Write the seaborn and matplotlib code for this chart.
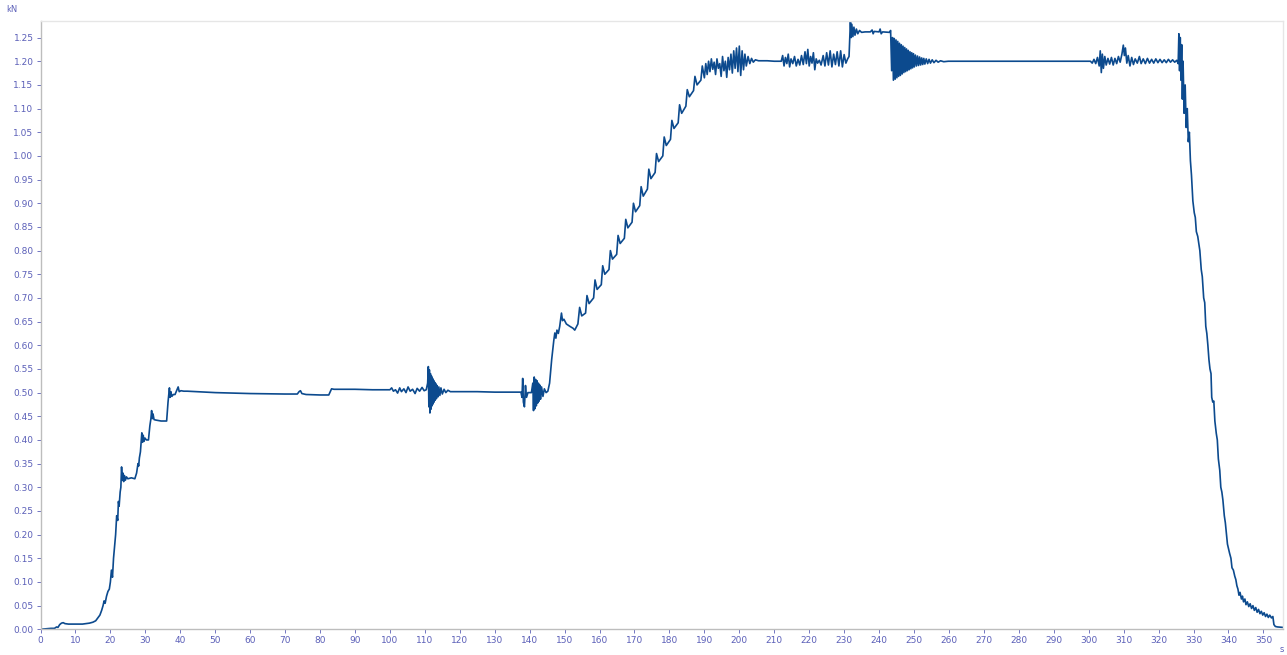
import numpy as np
import pandas as pd
import matplotlib
matplotlib.use("Agg")
import matplotlib.pyplot as plt
import seaborn as sns

# Load record (time in s, force in kN), split by test phase
initial_ramp = [
    (0.0, 0.000), (1.5, 0.001), (3.0, 0.002), (4.0, 0.002), (4.6, 0.005), (5.0, 0.004),
    (5.5, 0.010), (6.0, 0.013), (6.5, 0.014), (7.0, 0.012), (8.0, 0.011), (10.0, 0.011),
    (12.0, 0.011), (13.0, 0.012), (14.0, 0.013), (15.0, 0.015), (15.8, 0.018), (16.5, 0.025),
    (17.0, 0.030), (17.5, 0.040), (17.9, 0.050), (18.2, 0.060), (18.5, 0.055), (18.9, 0.070),
    (19.3, 0.080), (19.7, 0.085), (20.0, 0.100), (20.3, 0.125), (20.6, 0.110), (20.9, 0.150),
    (21.2, 0.175), (21.5, 0.200), (21.8, 0.240), (22.1, 0.230), (22.3, 0.270), (22.5, 0.260),
    (22.8, 0.290), (23.0, 0.300), (23.2, 0.343), (23.4, 0.315), (23.6, 0.330), (23.8, 0.312),
    (24.0, 0.325), (24.3, 0.315), (24.6, 0.322), (25.0, 0.318), (26.0, 0.320), (27.0, 0.318),
    (27.5, 0.330), (27.9, 0.350), (28.1, 0.345), (28.3, 0.362), (28.6, 0.375), (29.0, 0.415),
    (29.2, 0.395), (29.4, 0.410), (29.6, 0.397), (29.9, 0.404), (30.3, 0.400), (30.9, 0.400),
    (31.3, 0.430), (31.6, 0.445), (31.8, 0.462), (32.0, 0.445), (32.2, 0.455), (32.5, 0.443),
    (33.0, 0.442), (34.5, 0.440), (36.1, 0.440), (36.5, 0.480), (36.9, 0.510), (37.1, 0.490),
    (37.3, 0.502), (37.6, 0.492), (38.0, 0.496), (38.5, 0.496), (39.0, 0.505), (39.4, 0.512),
    (39.7, 0.502), (40.2, 0.504), (41.0, 0.503),
]

first_hold = [
    (42.0, 0.503), (50.0, 0.500), (60.0, 0.498), (70.0, 0.497), (73.5, 0.497), (74.0, 0.502),
    (74.4, 0.504), (74.8, 0.498), (76.0, 0.496), (80.0, 0.495), (82.5, 0.495), (83.0, 0.503),
    (83.3, 0.508), (84.0, 0.507), (90.0, 0.507), (95.0, 0.506), (100.0, 0.506), (100.5, 0.510),
    (101.0, 0.503), (101.6, 0.506), (102.2, 0.499), (102.8, 0.510), (103.3, 0.502), (104.0, 0.508),
    (104.6, 0.500), (105.2, 0.512), (105.8, 0.503), (106.5, 0.507), (107.2, 0.498), (107.8, 0.509),
    (108.5, 0.503), (109.2, 0.511), (109.8, 0.504), (110.4, 0.506), (110.8, 0.520), (111.0, 0.555),
    (111.15, 0.470), (111.3, 0.548), (111.45, 0.457), (111.6, 0.540), (111.75, 0.465),
    (111.9, 0.535), (112.05, 0.472), (112.2, 0.530), (112.35, 0.476), (112.5, 0.526),
    (112.65, 0.480), (112.8, 0.522), (112.95, 0.484), (113.1, 0.519), (113.3, 0.487),
    (113.5, 0.515), (113.75, 0.491), (114.0, 0.512), (114.3, 0.494), (114.6, 0.510),
    (115.0, 0.497), (115.5, 0.507), (116.0, 0.500), (116.6, 0.505), (117.3, 0.502), (118.0, 0.502),
    (125.0, 0.502), (130.0, 0.501), (137.5, 0.501), (137.8, 0.490), (138.0, 0.530), (138.2, 0.480),
    (138.5, 0.470), (138.8, 0.515), (139.1, 0.490), (139.5, 0.500), (140.5, 0.500), (140.9, 0.520),
    (141.1, 0.462), (141.3, 0.533), (141.5, 0.466), (141.7, 0.528), (141.9, 0.472),
    (142.1, 0.525), (142.3, 0.478), (142.5, 0.520), (142.7, 0.482), (142.9, 0.516),
    (143.1, 0.486), (143.4, 0.512), (143.8, 0.492), (144.2, 0.508), (144.7, 0.500), (145.2, 0.503),
]

second_ramp = [
    (145.7, 0.520), (146.3, 0.570), (146.9, 0.610), (147.2, 0.626), (147.5, 0.615), (147.8, 0.632),
    (148.2, 0.625), (148.6, 0.640), (149.1, 0.668), (149.4, 0.652), (149.8, 0.655), (150.5, 0.645),
    (151.5, 0.640), (152.4, 0.636), (152.9, 0.632), (153.8, 0.645), (154.3, 0.680), (154.9, 0.662),
    (156.0, 0.668), (156.4, 0.705), (157.0, 0.688), (158.3, 0.700), (158.7, 0.738), (159.3, 0.718),
    (160.5, 0.728), (160.9, 0.768), (161.5, 0.750), (162.7, 0.760), (163.1, 0.800), (163.7, 0.782),
    (164.9, 0.792), (165.3, 0.832), (165.9, 0.815), (167.1, 0.826), (167.5, 0.866), (168.1, 0.848),
    (169.3, 0.860), (169.7, 0.900), (170.3, 0.882), (171.5, 0.895), (171.9, 0.935), (172.5, 0.915),
    (173.7, 0.930), (174.1, 0.972), (174.7, 0.952), (175.9, 0.965), (176.3, 1.005), (176.9, 0.988),
    (178.1, 1.000), (178.5, 1.040), (179.1, 1.022), (180.3, 1.035), (180.7, 1.075), (181.3, 1.058),
    (182.5, 1.070), (182.9, 1.108), (183.5, 1.090), (184.7, 1.105), (185.1, 1.140), (185.7, 1.125),
    (186.9, 1.138), (187.3, 1.168), (187.9, 1.150), (189.0, 1.160), (189.4, 1.190),
]

upper_hold = [
    (190.0, 1.165), (190.4, 1.195), (190.8, 1.172), (191.2, 1.200), (191.6, 1.178), (192.0, 1.205),
    (192.4, 1.183), (192.8, 1.198), (193.2, 1.172), (193.6, 1.205), (194.0, 1.185), (194.4, 1.195),
    (194.8, 1.168), (195.2, 1.210), (195.6, 1.180), (196.0, 1.200), (196.4, 1.166), (196.8, 1.208),
    (197.2, 1.182), (197.6, 1.215), (198.0, 1.175), (198.4, 1.222), (198.8, 1.185), (199.2, 1.228),
    (199.6, 1.178), (200.0, 1.232), (200.4, 1.170), (200.8, 1.222), (201.2, 1.182), (201.6, 1.215),
    (202.0, 1.190), (202.5, 1.210), (203.0, 1.195), (203.5, 1.206), (204.0, 1.198), (204.6, 1.203),
    (205.5, 1.201), (208.0, 1.201), (210.0, 1.200), (212.0, 1.200), (212.4, 1.212), (212.8, 1.190),
    (213.2, 1.208), (213.6, 1.195), (214.0, 1.215), (214.4, 1.188), (214.8, 1.205), (215.3, 1.195),
    (215.8, 1.210), (216.3, 1.190), (216.8, 1.204), (217.3, 1.192), (217.8, 1.212), (218.3, 1.193),
    (218.8, 1.220), (219.2, 1.195), (219.6, 1.225), (220.0, 1.190), (220.4, 1.210), (220.8, 1.196),
    (221.2, 1.218), (221.6, 1.182), (222.0, 1.205), (222.4, 1.196), (222.9, 1.202), (223.4, 1.192),
    (224.0, 1.212), (224.5, 1.190), (225.0, 1.218), (225.5, 1.192), (226.0, 1.222), (226.5, 1.188),
    (227.0, 1.215), (227.5, 1.193), (228.0, 1.220), (228.5, 1.190), (229.0, 1.222), (229.5, 1.188),
    (230.0, 1.214), (230.5, 1.196), (231.0, 1.205), (231.4, 1.210),
]

peak_hold = [
    (231.8, 1.285), (232.0, 1.250), (232.2, 1.278), (232.5, 1.252), (232.8, 1.272), (233.1, 1.255),
    (233.5, 1.268), (233.9, 1.258), (234.4, 1.265), (235.0, 1.261), (236.0, 1.262), (237.5, 1.262),
    (238.0, 1.266), (238.3, 1.258), (238.6, 1.263), (240.0, 1.262), (240.3, 1.268), (240.6, 1.258),
    (241.0, 1.262), (243.0, 1.261), (243.3, 1.265),
]

settle_hold = [
    (243.6, 1.180), (243.85, 1.250), (244.1, 1.160), (244.35, 1.248), (244.6, 1.162),
    (244.85, 1.245), (245.1, 1.165), (245.35, 1.242), (245.6, 1.168), (245.85, 1.238),
    (246.1, 1.170), (246.35, 1.235), (246.6, 1.173), (246.85, 1.232), (247.1, 1.176),
    (247.35, 1.229), (247.6, 1.178), (247.85, 1.226), (248.1, 1.180), (248.35, 1.223),
    (248.6, 1.182), (248.85, 1.220), (249.1, 1.184), (249.35, 1.218), (249.6, 1.186),
    (249.85, 1.216), (250.1, 1.188), (250.4, 1.213), (250.7, 1.190), (251.0, 1.211),
    (251.3, 1.191), (251.6, 1.209), (251.9, 1.192), (252.2, 1.207), (252.5, 1.193),
    (252.8, 1.206), (253.1, 1.194), (253.5, 1.205), (253.9, 1.195), (254.3, 1.204),
    (254.7, 1.196), (255.2, 1.203), (255.7, 1.197), (256.3, 1.202), (256.9, 1.198),
    (257.6, 1.201), (258.5, 1.199), (259.8, 1.200), (261.0, 1.200), (270.0, 1.200),
    (280.0, 1.200), (290.0, 1.200),
    (300.0, 1.200), (300.5, 1.200), (301.0, 1.196), (301.5, 1.204), (302.0, 1.195), (302.5, 1.208),
    (303.0, 1.190), (303.3, 1.222), (303.6, 1.176), (303.9, 1.215), (304.2, 1.185), (304.6, 1.210),
    (305.0, 1.192), (305.5, 1.206), (306.0, 1.194), (306.5, 1.208), (307.0, 1.192), (307.5, 1.206),
    (308.0, 1.195), (308.5, 1.210), (309.0, 1.198), (309.5, 1.215), (309.9, 1.234), (310.2, 1.212),
    (310.5, 1.228), (310.9, 1.196), (311.3, 1.212), (311.8, 1.190), (312.3, 1.208), (312.8, 1.193),
    (313.3, 1.205), (313.9, 1.196), (314.5, 1.210), (315.0, 1.195), (315.6, 1.205), (316.2, 1.195),
    (316.8, 1.206), (317.4, 1.196), (318.0, 1.204), (318.6, 1.196), (319.2, 1.205), (319.8, 1.197),
    (320.4, 1.204), (321.0, 1.197), (321.6, 1.203), (322.2, 1.197), (322.8, 1.204), (323.4, 1.198),
    (324.0, 1.203), (324.6, 1.198), (325.2, 1.202), (325.6, 1.195),
]

unloading = [
    (325.8, 1.258), (326.0, 1.180), (326.2, 1.250), (326.4, 1.160), (326.6, 1.235), (326.8, 1.120),
    (327.0, 1.200), (327.3, 1.090), (327.6, 1.150), (327.9, 1.060), (328.2, 1.100), (328.5, 1.030),
    (328.8, 1.050), (329.1, 0.990), (329.4, 0.960), (329.8, 0.905), (330.2, 0.880), (330.5, 0.870),
    (330.8, 0.840), (331.2, 0.830), (331.8, 0.800), (332.2, 0.760), (332.5, 0.745), (332.9, 0.700),
    (333.2, 0.690), (333.5, 0.640), (333.8, 0.625), (334.1, 0.600), (334.4, 0.570), (334.7, 0.550),
    (335.0, 0.540), (335.2, 0.490), (335.5, 0.480), (335.8, 0.482), (336.1, 0.440), (336.5, 0.414),
    (336.8, 0.400), (337.1, 0.360), (337.5, 0.336), (337.8, 0.300), (338.1, 0.290), (338.4, 0.273),
    (338.8, 0.240), (339.1, 0.225), (339.4, 0.203), (339.7, 0.180), (340.0, 0.170), (340.3, 0.161),
    (340.7, 0.150), (341.0, 0.130), (341.4, 0.125), (341.8, 0.112), (342.1, 0.105), (342.4, 0.092),
    (342.7, 0.085), (343.0, 0.072), (343.3, 0.078), (343.7, 0.064), (344.0, 0.070), (344.3, 0.058),
    (344.7, 0.064), (345.0, 0.052), (345.4, 0.058), (345.8, 0.048), (346.2, 0.054), (346.6, 0.044),
    (347.0, 0.050), (347.4, 0.040), (347.8, 0.046), (348.2, 0.036), (348.6, 0.042), (349.0, 0.033),
    (349.4, 0.038), (349.8, 0.030), (350.2, 0.035), (350.6, 0.027), (351.0, 0.032), (351.4, 0.025),
    (351.8, 0.030), (352.3, 0.024), (352.7, 0.027), (353.0, 0.010), (353.4, 0.006), (354.0, 0.005),
    (355.6, 0.004),
]

x_ticks = list(range(0, 360, 10))
y_ticks = [0.00, 0.05, 0.10, 0.15, 0.20, 0.25, 0.30, 0.35, 0.40, 0.45, 0.50, 0.55, 0.60,
           0.65, 0.70, 0.75, 0.80, 0.85, 0.90, 0.95, 1.00, 1.05, 1.10, 1.15, 1.20, 1.25]

phases = [initial_ramp, first_hold, second_ramp, upper_hold, peak_hold, settle_hold, unloading]
record = pd.DataFrame([p for phase in phases for p in phase], columns=["time", "force"])

sns.set_theme(style="white")
plt.rcParams["font.family"] = ["DejaVu Sans"]

label_color = "#5b5fb8"
line_color = "#0c4a8e"

W, H = 1287, 655
fig = plt.figure(figsize=(W / 100, H / 100), dpi=100)
ax = fig.add_axes([40.5 / W, (H - 629.3) / H, (1283 - 40.5) / W, (629.3 - 21) / H])

sns.lineplot(data=record, x="time", y="force", estimator=None, sort=False,
             color=line_color, linewidth=1.2, ax=ax)

ax.set_xlim(0, 355.6)
ax.set_ylim(0, 1.285)
ax.set_xticks(x_ticks)
ax.set_xticklabels([str(v) for v in x_ticks])
ax.set_yticks(y_ticks)
ax.set_yticklabels([f"{v:.2f}" for v in y_ticks])
ax.set_xlabel("")
ax.set_ylabel("")

ax.tick_params(axis="both", which="major", labelsize=6.5, labelcolor=label_color,
               color=label_color, length=3, width=0.6, direction="out", pad=2)
ax.tick_params(axis="x", bottom=True)
ax.tick_params(axis="y", left=True)

for side in ["left", "bottom"]:
    ax.spines[side].set_color("#bdbdbd")
    ax.spines[side].set_linewidth(1.0)
for side in ["top", "right"]:
    ax.spines[side].set_color("#e6e6e6")
    ax.spines[side].set_linewidth(1.0)

fig.text(6 / W, 1 - 10 / H, "kN", fontsize=6, color=label_color, ha="left", va="center")
fig.text(1282 / W, 1 - 650 / H, "s", fontsize=6, color=label_color, ha="center", va="center")

fig.savefig("out.png", dpi=100, facecolor="white")
